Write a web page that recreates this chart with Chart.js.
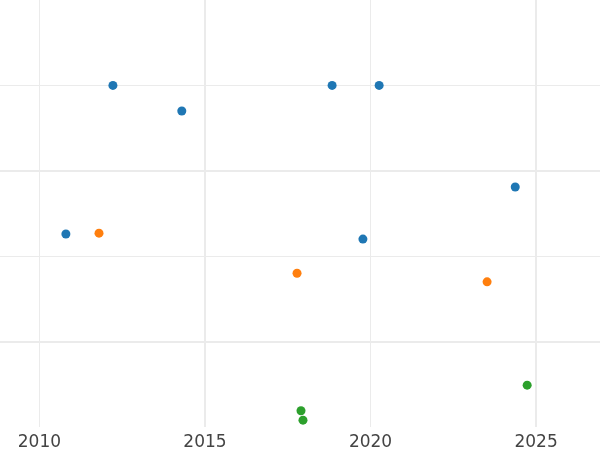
<!DOCTYPE html>
<html>
<head>
<meta charset="utf-8">
<script src="https://cdn.jsdelivr.net/npm/chart.js@4/dist/chart.umd.min.js"></script>
<style>
  html, body { margin: 0; padding: 0; background: #fff; }
  #wrap { width: 600px; height: 450px; }
</style>
</head>
<body>
<div id="wrap"><canvas id="chart"></canvas></div>
<script>
// x positions (years) and y values for each group of points
const blueX = [2012.22, 2014.30, 2018.84, 2020.26, 2024.37, 2010.80, 2019.77];
const blueY = [4.00, 3.70, 4.00, 4.00, 2.81, 2.26, 2.20];
const orangeX = [2011.80, 2017.78, 2023.52];
const orangeY = [2.27, 1.80, 1.70];
const greenX = [2017.90, 2017.96, 2024.73];
const greenY = [0.19, 0.08, 0.49];

const xTicks = [2010, 2015, 2020, 2025];
const yTicks = [1, 2, 3, 4];

function pts(xs, ys) {
    return xs.map((x, i) => ({ x: x, y: ys[i] }));
}

function dataset(xs, ys, color) {
    return {
        data: pts(xs, ys),
        backgroundColor: color,
        borderColor: color,
        pointRadius: 4.5,
        pointHoverRadius: 4.5,
        borderWidth: 0
    };
}

const ctx = document.getElementById('chart').getContext('2d');
new Chart(ctx, {
    type: 'scatter',
    data: {
        datasets: [
            dataset(blueX, blueY, '#1f77b4'),
            dataset(orangeX, orangeY, '#ff7f0e'),
            dataset(greenX, greenY, '#2ca02c')
        ]
    },
    options: {
        responsive: true,
        maintainAspectRatio: false,
        animation: false,
        layout: { padding: 0, autoPadding: false },
        plugins: { legend: { display: false }, tooltip: { enabled: false } },
        scales: {
            x: {
                type: 'linear',
                min: 2008.81,
                max: 2026.93,
                afterBuildTicks: axis => { axis.ticks = xTicks.map(v => ({ value: v })); },
                afterFit: axis => { axis.height = 23; },
                border: { display: false },
                grid: {
                    color: '#ebebeb',
                    lineWidth: c => (c.index % 2 === 1 ? 2 : 1),
                    drawTicks: false
                },
                ticks: {
                    padding: 5,
                    color: '#444',
                    font: { family: 'DejaVu Sans', size: 17 },
                    callback: v => String(v)
                }
            },
            y: {
                min: 0,
                max: 5,
                afterBuildTicks: axis => { axis.ticks = yTicks.map(v => ({ value: v })); },
                border: { display: false },
                grid: {
                    color: '#ebebeb',
                    lineWidth: c => (c.index % 2 === 0 ? 2 : 1),
                    drawTicks: false
                },
                ticks: { display: false }
            }
        }
    }
});
</script>
</body>
</html>
